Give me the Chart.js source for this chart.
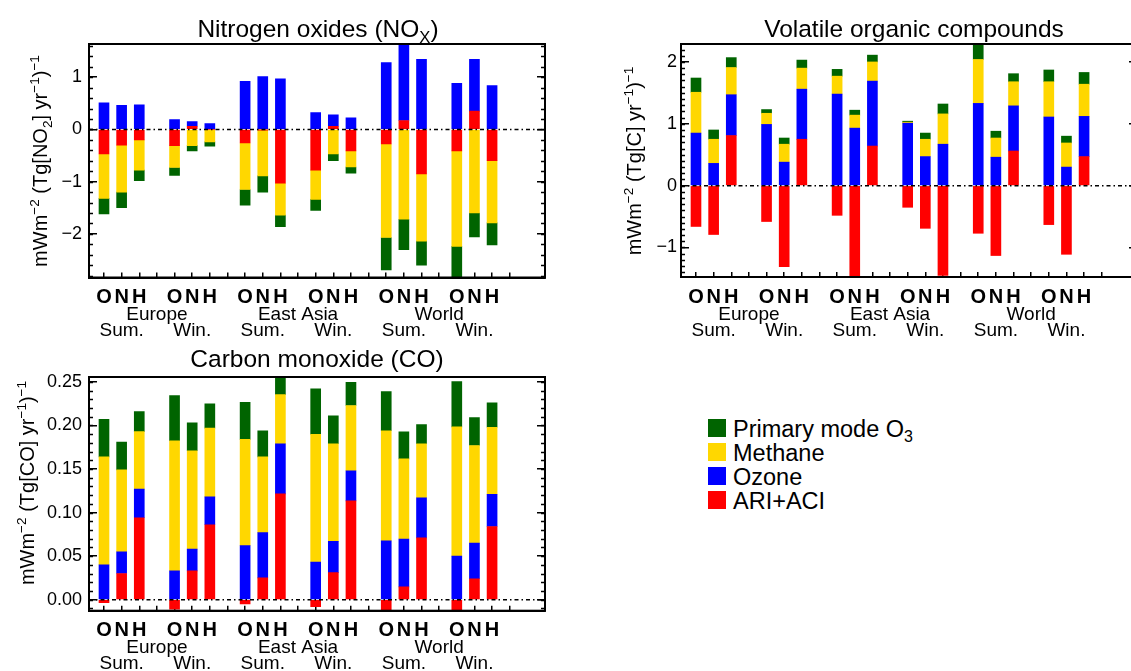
<!DOCTYPE html>
<html>
<head>
<meta charset="utf-8">
<script src="https://cdn.jsdelivr.net/npm/chart.js@4.4.0/dist/chart.umd.min.js"></script>
<style>
  body { margin: 0; width: 1131px; height: 671px; overflow: hidden; background: #fff; position: relative; font-family: "Liberation Sans", Arial, sans-serif; }
  .panel { position: absolute; }
  .legend { position: absolute; left: 708px; top: 419px; }
  .legend-row { position: relative; height: 24px; font-size: 23.5px; line-height: 18px; color: #000; }
  .legend-row .sw { position: absolute; left: 0; top: 0; width: 18px; height: 18px; }
  .legend-row .lbl { position: absolute; left: 25px; top: 1px; white-space: nowrap; }
  .legend-row sub { font-size: 16px; vertical-align: -5px; line-height: 0; }
</style>
</head>
<body>
<div class="panel" style="left:0;top:0;width:560px;height:340px"><canvas id="noxChart"></canvas></div>
<div class="panel" style="left:590px;top:0;width:560px;height:340px"><canvas id="vocChart"></canvas></div>
<div class="panel" style="left:0;top:340px;width:560px;height:331px"><canvas id="coChart"></canvas></div>
<div class="legend" id="legend"></div>

<script>
// order of bars: Europe Sum (O,N,H), Europe Win, East Asia Sum, East Asia Win, World Sum, World Win
const regions = ['Europe', 'East Asia', 'World'];
const seasons = ['Sum.', 'Win.'];
const species = ['O', 'N', 'H'];
const seriesNames = ['ARI+ACI', 'Ozone', 'Methane', 'Primary mode O3'];
const seriesColors = ['#ff0000', '#0000ff', '#ffd700', '#006400'];

// Nitrogen oxides
const noxAri     = [-0.47, -0.30, -0.20, -0.31, 0.06, 0.00, -0.26, -0.01, -1.03, -0.78, 0.06, -0.41, -0.28, 0.17, -0.85, -0.41, 0.35, -0.60];
const noxOzone   = [0.51, 0.46, 0.47, 0.19, 0.09, 0.11, 0.92, 1.01, 0.97, 0.32, 0.22, 0.22, 1.28, 1.47, 1.34, 0.88, 0.99, 0.84];
const noxMethane = [-0.85, -0.90, -0.58, -0.42, -0.31, -0.24, -0.89, -0.88, -0.61, -0.56, -0.47, -0.31, -1.79, -1.72, -1.29, -1.83, -1.60, -1.19];
const noxPrimary = [-0.30, -0.30, -0.20, -0.15, -0.10, -0.08, -0.30, -0.31, -0.22, -0.21, -0.13, -0.12, -0.62, -0.58, -0.46, -0.65, -0.46, -0.42];
const noxTicks = [-2, -1, 0, 1];

// Volatile organic compounds
const vocAri     = [-0.66, -0.79, 0.81, -0.58, -1.31, 0.75, -0.48, -1.52, 0.64, -0.35, -0.69, -1.45, -0.77, -1.13, 0.56, -0.63, -1.11, 0.47];
const vocOzone   = [0.85, 0.36, 0.66, 0.99, 0.38, 0.81, 1.48, 0.93, 1.05, 1.01, 0.47, 0.67, 1.33, 0.46, 0.73, 1.11, 0.30, 0.65];
const vocMethane = [0.66, 0.39, 0.44, 0.18, 0.29, 0.34, 0.29, 0.21, 0.31, 0.016, 0.28, 0.49, 0.71, 0.31, 0.39, 0.57, 0.39, 0.52];
const vocPrimary = [0.23, 0.15, 0.16, 0.06, 0.10, 0.13, 0.11, 0.08, 0.11, 0.016, 0.10, 0.16, 0.25, 0.11, 0.13, 0.19, 0.11, 0.19];
const vocTicks = [-1, 0, 1, 2];

// Carbon monoxide
const coAri     = [-0.0035, 0.030, 0.094, -0.011, 0.033, 0.086, -0.005, 0.025, 0.1215, -0.008, 0.031, 0.1135, -0.013, 0.0146, 0.071, -0.013, 0.024, 0.084];
const coOzone   = [0.040, 0.025, 0.033, 0.033, 0.025, 0.032, 0.062, 0.052, 0.0575, 0.043, 0.036, 0.0345, 0.0675, 0.055, 0.046, 0.050, 0.041, 0.037];
const coMethane = [0.124, 0.094, 0.066, 0.1495, 0.113, 0.079, 0.122, 0.087, 0.0565, 0.147, 0.112, 0.075, 0.1265, 0.092, 0.062, 0.1484, 0.112, 0.077];
const coPrimary = [0.043, 0.032, 0.023, 0.052, 0.032, 0.028, 0.0425, 0.030, 0.022, 0.052, 0.032, 0.0265, 0.045, 0.031, 0.022, 0.052, 0.032, 0.028];
const coTicks = [0, 0.05, 0.10, 0.15, 0.20, 0.25];

const FONT = '"Liberation Sans", Arial, sans-serif';
const X_MIN = 0.15, X_MAX = 26;

// bar slot on the x axis: 3 bars then an empty slot per group
const slotOf = i => 1 + Math.floor(i / 3) * 4 + (i % 3);
const xSlots = Array.from({ length: 24 }, (_, i) => i + 1);

function drawRich(ctx, parts, x, y, size) {
  const small = size * 0.68;
  const fontFor = m => `${m === 'n' ? size : small}px ${FONT}`;
  let total = 0;
  parts.forEach(([t, m]) => { ctx.font = fontFor(m); total += ctx.measureText(t).width; });
  let cx = x - total / 2;
  ctx.textAlign = 'left';
  ctx.textBaseline = 'alphabetic';
  parts.forEach(([t, m]) => {
    ctx.font = fontFor(m);
    const dy = m === 'sup' ? -size * 0.42 : (m === 'sub' ? size * 0.24 : 0);
    ctx.fillText(t, cx, y + dy);
    cx += ctx.measureText(t).width;
  });
}

function makePanel(id, p) {
  const datasets = p.series.map((vals, k) => ({
    type: 'bar',
    label: seriesNames[k],
    data: vals.map((v, i) => ({ x: slotOf(i), y: v })),
    backgroundColor: seriesColors[k],
    borderWidth: 0,
    stack: 'all',
    barThickness: 10,
    order: 1
  }));
  // dash-dot zero line
  datasets.push({
    type: 'line', label: 'zero',
    data: [{ x: X_MIN, y: 0 }, { x: X_MAX, y: 0 }],
    borderColor: '#000', borderWidth: 1.5, borderDash: [4, 3, 1.5, 3],
    pointRadius: 0, order: 0
  });

  const decor = {
    id: 'decor',
    afterDraw(chart) {
      const { ctx, chartArea: a, scales: { x, y } } = chart;
      ctx.save();
      ctx.strokeStyle = '#000';
      ctx.lineWidth = 2;
      ctx.strokeRect(a.left, a.top, a.width, a.height);
      // minor ticks on both sides
      ctx.lineWidth = 1.5;
      ctx.beginPath();
      const k0 = Math.ceil(y.min / p.minor - 1e-6), k1 = Math.floor(y.max / p.minor + 1e-6);
      for (let k = k0; k <= k1; k++) {
        const py = Math.round(y.getPixelForValue(k * p.minor)) + 0.5;
        ctx.moveTo(a.left, py); ctx.lineTo(a.left + 4, py);
        ctx.moveTo(a.right, py); ctx.lineTo(a.right - 4, py);
      }
      ctx.stroke();

      ctx.fillStyle = '#000';
      // panel title
      drawRich(ctx, p.title, (a.left + a.right) / 2 + p.titleDx, p.titleY, 24.5);
      // y axis title
      ctx.save();
      ctx.translate(p.yTitleX, p.yTitleY);
      ctx.rotate(-Math.PI / 2);
      drawRich(ctx, p.yTitle, 0, 0, 20);
      ctx.restore();

      // category labels under the axis
      ctx.textAlign = 'center';
      ctx.textBaseline = 'alphabetic';
      for (let g = 0; g < 6; g++) {
        ctx.font = `bold 20px ${FONT}`;
        species.forEach((s, k) => ctx.fillText(s, x.getPixelForValue(1 + g * 4 + k), a.bottom + 25.5));
        ctx.font = `19px ${FONT}`;
        ctx.fillText(seasons[g % 2], x.getPixelForValue(2 + g * 4), a.bottom + 58.5);
      }
      ctx.font = `19px ${FONT}`;
      regions.forEach((r, i) => ctx.fillText(r, x.getPixelForValue(4 + i * 8), a.bottom + 42.5));
      ctx.restore();
    }
  };

  const setTicks = vals => s => { s.ticks = vals.map(v => ({ value: v })); };
  const axisGrid = len => ({ drawOnChartArea: false, offset: false, tickLength: len, color: '#000', lineWidth: 1.5 });

  return new Chart(document.getElementById(id), {
    type: 'bar',
    data: { datasets },
    plugins: [decor],
    options: {
      responsive: true,
      maintainAspectRatio: false,
      animation: false,
      layout: { padding: p.padding },
      plugins: { legend: { display: false }, tooltip: { enabled: false } },
      scales: {
        x: {
          type: 'linear', position: 'bottom', min: X_MIN, max: X_MAX, offset: false,
          afterBuildTicks: setTicks(xSlots),
          afterFit: s => { s.height = 0; },
          ticks: { display: false },
          grid: axisGrid(-5),
          border: { color: '#000', width: 2 }
        },
        y: {
          position: 'left', min: p.yMin, max: p.yMax,
          afterBuildTicks: setTicks(p.ticks),
          afterFit: s => { s.width = p.yWidth; },
          ticks: {
            color: '#000', font: { family: FONT, size: 18 }, padding: 8 + p.labelGap,
            callback: v => (v < 0 ? '\u2212' : '') + Math.abs(v).toFixed(p.decimals)
          },
          grid: axisGrid(-8),
          border: { color: '#000', width: 2 }
        },
        yR: {
          position: 'right', min: p.yMin, max: p.yMax,
          afterBuildTicks: setTicks(p.ticks),
          afterFit: s => { s.width = 0; },
          ticks: { display: false },
          grid: axisGrid(-8),
          border: { color: '#000', width: 2 }
        }
      }
    }
  });
}

makePanel('noxChart', {
  series: [noxAri, noxOzone, noxMethane, noxPrimary],
  yMin: -2.835, yMax: 1.635, ticks: noxTicks, minor: 0.2, decimals: 0, labelGap: 7,
  padding: { left: 0, right: 15, top: 44, bottom: 62.5 }, yWidth: 89,
  title: [['Nitrogen oxides (NO', 'n'], ['X', 'sub'], [')', 'n']], titleY: 37, titleDx: 1,
  yTitle: [['mWm', 'n'], ['\u22122', 'sup'], [' (Tg[NO', 'n'], ['2', 'sub'], ['] yr', 'n'], ['\u22121', 'sup'], [')', 'n'], ['\u22121', 'sup']],
  yTitleX: 47, yTitleY: 161
});

makePanel('vocChart', {
  series: [vocAri, vocOzone, vocMethane, vocPrimary],
  yMin: -1.477, yMax: 2.29, ticks: vocTicks, minor: 0.1, decimals: 0, labelGap: 4,
  padding: { left: 0, right: 13, top: 44, bottom: 63 }, yWidth: 91,
  title: [['Volatile organic compounds', 'n']], titleY: 37, titleDx: 5,
  yTitle: [['mWm', 'n'], ['\u22122', 'sup'], [' (Tg[C] yr', 'n'], ['\u22121', 'sup'], [')', 'n'], ['\u22121', 'sup']],
  yTitleX: 51, yTitleY: 161
});

makePanel('coChart', {
  series: [coAri, coOzone, coMethane, coPrimary],
  yMin: -0.0127, yMax: 0.2557, ticks: coTicks, minor: 0.01, decimals: 2, labelGap: 7,
  padding: { left: 0, right: 15, top: 37, bottom: 60.3 }, yWidth: 89,
  title: [['Carbon monoxide (CO)', 'n']], titleY: 27, titleDx: 0,
  yTitle: [['mWm', 'n'], ['\u22122', 'sup'], [' (Tg[CO] yr', 'n'], ['\u22121', 'sup'], [')', 'n'], ['\u22121', 'sup']],
  yTitleX: 34, yTitleY: 143
});

// legend, top entry first
const legendRows = [
  [3, 'Primary mode O<sub>3</sub>'],
  [2, 'Methane'],
  [1, 'Ozone'],
  [0, 'ARI+ACI']
];
document.getElementById('legend').innerHTML = legendRows.map(([k, html]) =>
  `<div class="legend-row"><div class="sw" style="background:${seriesColors[k]}"></div><div class="lbl">${html}</div></div>`
).join('');
</script>
</body>
</html>
